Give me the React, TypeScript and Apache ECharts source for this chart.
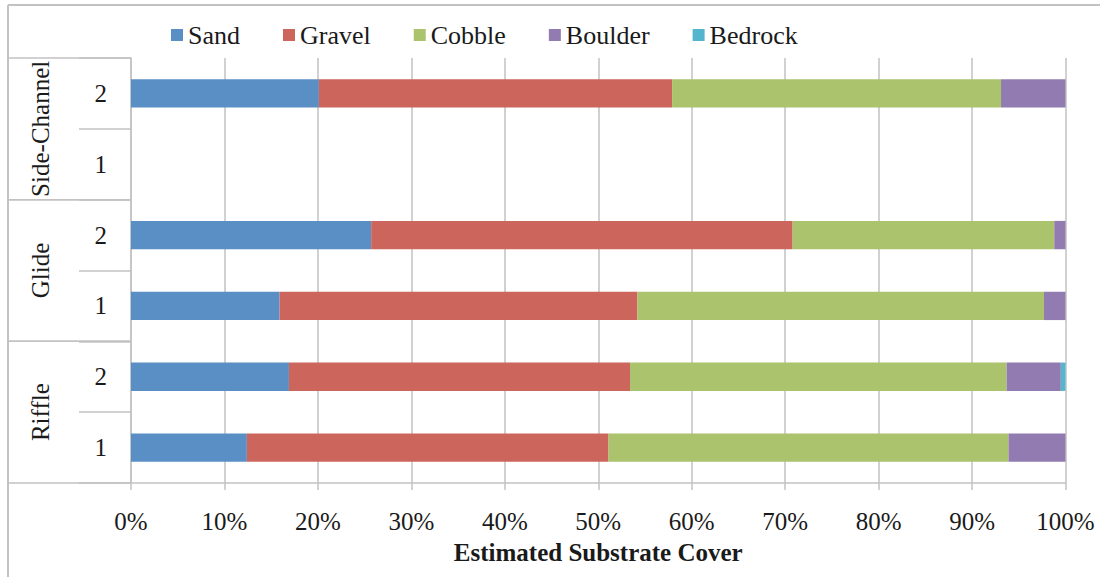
import React, { useEffect, useRef } from "react";
import * as echarts from "echarts";

const groups = ["Riffle", "Glide", "Side-Channel"];
const reaches = ["1", "2"];
const seriesNames = ["Sand", "Gravel", "Cobble", "Boulder", "Bedrock"];
// order: Riffle 1, Riffle 2, Glide 1, Glide 2, Side-Channel 1, Side-Channel 2
const sand = [12.4, 16.9, 15.9, 25.7, null, 20.1];
const gravel = [38.7, 36.5, 38.3, 45.1, null, 37.8];
const cobble = [42.8, 40.3, 43.5, 28.0, null, 35.2];
const boulder = [6.1, 5.8, 2.3, 1.2, null, 6.9];
const bedrock = [null, 0.5, null, null, null, null];
const colors = ["#5a8fc5", "#cc665c", "#abc36d", "#927bb1", "#55b5cc"];
const xTickStep = 10;
const xMax = 100;
const xTitle = "Estimated Substrate Cover";

const FONT = "'Liberation Serif', serif";
const TEXT = "#1a1a1a";
const LINE = "#c2c2c2";

const categories: string[] = [];
groups.forEach((g) => reaches.forEach((r) => categories.push(g + "|" + r)));
const seriesData = [sand, gravel, cobble, boulder, bedrock];

export default function App() {
  const ref = useRef<HTMLDivElement>(null);
  useEffect(() => {
    if (!ref.current) return;
    const chart = echarts.init(ref.current, null, { renderer: "svg" });
    chart.setOption({
      animation: false,
      backgroundColor: "#ffffff",
      legend: {
        left: 166,
        top: 17,
        itemWidth: 12,
        itemHeight: 12,
        itemGap: 43,
        icon: "rect",
        data: seriesNames,
        textStyle: { fontFamily: FONT, fontSize: 26, color: TEXT },
      },
      grid: { left: 131, right: 34.5, top: 58, bottom: 94, containLabel: false },
      xAxis: {
        type: "value",
        min: 0,
        max: xMax,
        interval: xTickStep,
        axisLine: { show: true, lineStyle: { color: LINE, width: 1.5 } },
        axisTick: { show: true, length: 7, lineStyle: { color: LINE, width: 1.5 } },
        splitLine: { show: true, lineStyle: { color: LINE, width: 1.5 } },
        axisLabel: {
          formatter: (v: number) => v + "%",
          fontFamily: FONT,
          fontSize: 25,
          color: TEXT,
          margin: 26,
        },
        name: xTitle,
        nameLocation: "middle",
        nameGap: 57,
        nameTextStyle: { fontFamily: FONT, fontSize: 25, fontWeight: "bold", color: TEXT },
      },
      yAxis: {
        type: "category",
        data: categories,
        axisLine: { show: true, lineStyle: { color: LINE, width: 1.5 } },
        axisTick: { show: true, length: 52, interval: 0, lineStyle: { color: LINE, width: 1.5 } },
        splitLine: { show: false },
        axisLabel: {
          formatter: (v: string) => v.split("|")[1],
          fontFamily: FONT,
          fontSize: 25,
          color: TEXT,
          margin: 24,
        },
      },
      series: seriesNames.map((name, i) => ({
        name,
        type: "bar",
        stack: "total",
        barWidth: "40%",
        itemStyle: { color: colors[i] },
        data: seriesData[i].map((v) => (v === null || v === 0 ? "-" : v)),
      })),
    });

    const p = (i: number) => chart.convertToPixel({ yAxisIndex: 0 }, categories[i]) as number;
    const band = Math.abs(p(0) - p(1));
    const x0 = chart.convertToPixel({ xAxisIndex: 0 }, 0) as number;
    const graphics: any[] = [
      { type: "line", shape: { x1: 8, y1: 5, x2: 1100, y2: 5 }, style: { stroke: LINE, lineWidth: 2 } },
      { type: "line", shape: { x1: 8, y1: 5, x2: 8, y2: 577 }, style: { stroke: LINE, lineWidth: 2 } },
    ];
    groups.forEach((g, gi) => {
      const iLow = gi * reaches.length;
      const iHigh = iLow + reaches.length - 1;
      const yBottom = p(iLow) + band / 2;
      const yTop = p(iHigh) - band / 2;
      graphics.push({
        type: "line",
        shape: { x1: 8, y1: yBottom, x2: x0, y2: yBottom },
        style: { stroke: LINE, lineWidth: 1.5 },
      });
      graphics.push({
        type: "line",
        shape: { x1: 8, y1: yTop, x2: x0, y2: yTop },
        style: { stroke: LINE, lineWidth: 1.5 },
      });
      graphics.push({
        type: "text",
        x: 40,
        y: (yBottom + yTop) / 2,
        rotation: Math.PI / 2,
        style: {
          text: g,
          fontFamily: FONT,
          fontSize: 25,
          fill: TEXT,
          align: "center",
          verticalAlign: "middle",
        },
      });
    });
    chart.setOption({ graphic: graphics });
    return () => chart.dispose();
  }, []);
  return (
    <div
      ref={ref}
      style={{ position: "fixed", left: 0, top: 0, width: 1100, height: 577 }}
    />
  );
}
